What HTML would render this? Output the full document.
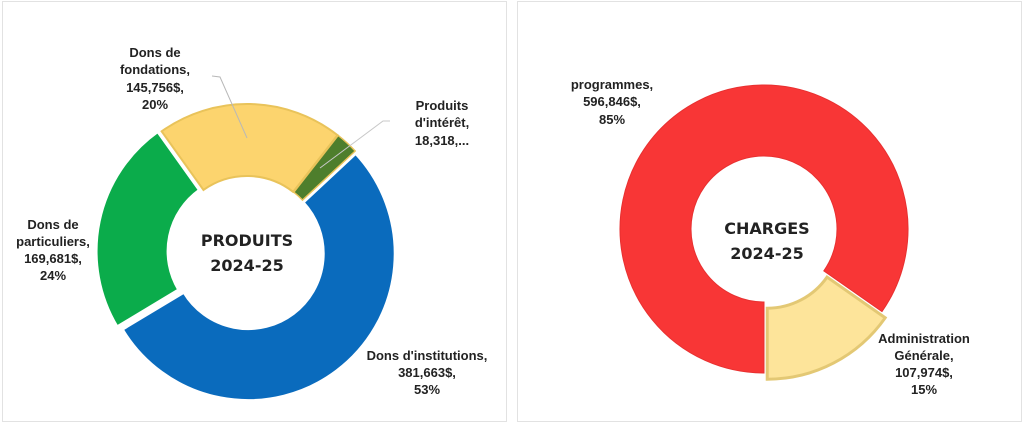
<!DOCTYPE html>
<html><head><meta charset="utf-8"><style>
html,body{margin:0;padding:0;background:#fff;width:1024px;height:424px;overflow:hidden}
svg text{font-family:"Liberation Sans",sans-serif;font-weight:bold;fill:#222}
.c{font-family:"DejaVu Sans","Liberation Sans",sans-serif;font-size:16px}
</style></head><body>
<svg id="s" width="1024" height="424" xmlns="http://www.w3.org/2000/svg">
<rect x="2.5" y="1.5" width="504" height="420" fill="#fff" stroke="#e2e2e2"/>
<rect x="517.5" y="1.5" width="504" height="420" fill="#fff" stroke="#e2e2e2"/>
<g id="g"></g>
<polyline points="212,76 220,77 247,138" fill="none" stroke="#b8b8b8" stroke-width="1"/>
<polyline points="390,121 383,121 320,168" fill="none" stroke="#c8c8c8" stroke-width="1"/>
<g font-size="13" text-anchor="middle">
<text x="155" y="57">Dons de</text><text x="155" y="74">fondations,</text><text x="155" y="92">145,756$,</text><text x="155" y="109">20%</text>
<text x="442" y="110">Produits</text><text x="442" y="127">d'intérêt,</text><text x="442" y="145">18,318,...</text>
<text x="53" y="229">Dons de</text><text x="53" y="246">particuliers,</text><text x="53" y="263">169,681$,</text><text x="53" y="280">24%</text>
<text x="427" y="360">Dons d'institutions,</text><text x="427" y="377">381,663$,</text><text x="427" y="394">53%</text>
<text x="612" y="89">programmes,</text><text x="612" y="106">596,846$,</text><text x="612" y="124">85%</text>
<text x="924" y="343">Administration</text><text x="924" y="360">Générale,</text><text x="924" y="377">107,974$,</text><text x="924" y="394">15%</text>
</g>
<text class="c" x="247" y="246" text-anchor="middle">PRODUITS</text>
<text class="c" x="247" y="271" text-anchor="middle">2024-25</text>
<text class="c" x="767" y="234" text-anchor="middle">CHARGES</text>
<text class="c" x="767" y="259" text-anchor="middle">2024-25</text>
</svg>
<script>
function arc(cx,cy,R,r,a0,a1,off){
 var m=(a0+a1)/2*Math.PI/180;cx+=off*Math.sin(m);cy-=off*Math.cos(m);
 function p(rad,a){a=a*Math.PI/180;return (cx+rad*Math.sin(a)).toFixed(2)+","+(cy-rad*Math.cos(a)).toFixed(2)}
 var L=(a1-a0)>180?1:0;
 return "M"+p(R,a0)+" A"+R+","+R+" 0 "+L+" 1 "+p(R,a1)+" L"+p(r,a1)+" A"+r+","+r+" 0 "+L+" 0 "+p(r,a0)+" Z";
}
var g=document.getElementById("g"),h="";
function add(d,f,s,w){h+='<path d="'+d+'" fill="'+f+'" stroke="'+s+'" stroke-width="'+w+'"/>';}
add(arc(247,252,147,75,47,239,2),"#0a6bbd","#fff",3);
add(arc(247,252,147,75,239,324.5,4),"#0bac4b","#fff",3);
add(arc(247,252,147,75,324.5,398,1),"#fcd46e","#e9c35a",2);
add(arc(247,252,147,75,398,407,1),"#4e7e2c","#e9c35a",1.5);
add(arc(764,229,144,73,180,485,0),"#f83636","#e83030",1);
add(arc(764,229,144,73,125,180,7),"#fde49a","#e3c874",3);
g.innerHTML=h;
</script>
</body></html>
